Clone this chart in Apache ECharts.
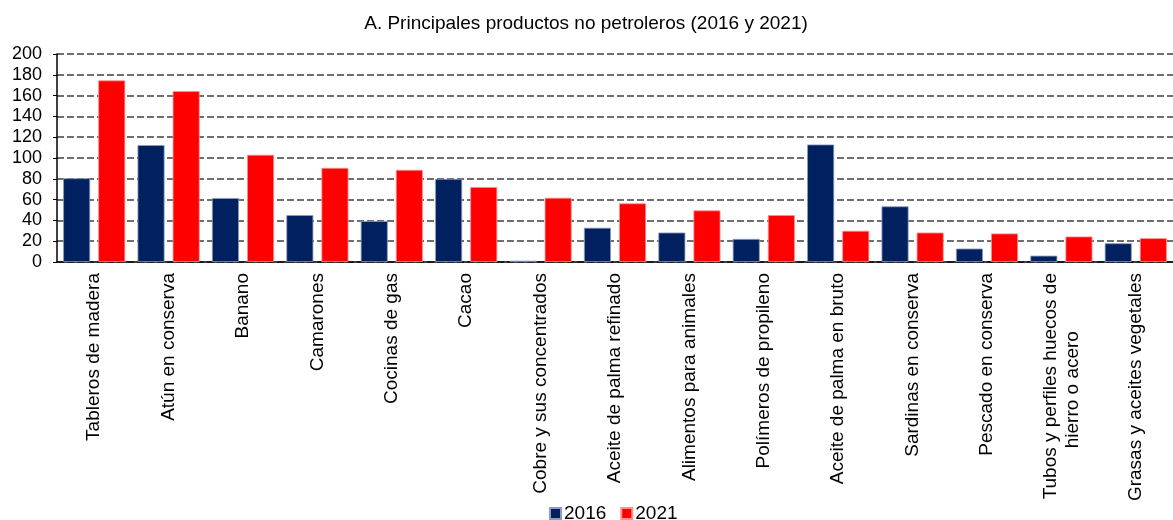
<!DOCTYPE html>
<html>
<head>
<meta charset="utf-8">
<script src="https://cdn.jsdelivr.net/npm/echarts@6/dist/echarts.min.js"></script>
<style>
  html, body { margin: 0; padding: 0; background: #fff; }
  #main { width: 1173px; height: 520px; }
</style>
</head>
<body>
<div id="main"></div>
<script>
// datos
var categorias = [
  'Tableros de madera', 'Atún en conserva', 'Banano', 'Camarones', 'Cocinas de gas',
  'Cacao', 'Cobre y sus concentrados', 'Aceite de palma refinado', 'Alimentos para animales',
  'Polímeros de propileno', 'Aceite de palma en bruto', 'Sardinas en conserva',
  'Pescado en conserva', 'Tubos y perfiles huecos de\nhierro o acero           ',
  'Grasas y aceites vegetales'
];
var valores2016 = [80.5, 112.4, 61.5, 45.1, 39.3, 79.9, 1.3, 32.9, 28.3, 22.2, 113.0, 53.5, 12.9, 6.1, 18.0];
var valores2021 = [174.6, 164.3, 103.1, 90.5, 88.6, 72.1, 61.8, 56.4, 49.6, 45.1, 30.0, 28.3, 27.4, 24.5, 22.9];
var ticksY = [0, 20, 40, 60, 80, 100, 120, 140, 160, 180, 200];

var fuente = 'Liberation Sans, Arial, sans-serif';
var chart = echarts.init(document.getElementById('main'), null, { renderer: 'canvas' });

var option = {
  animation: false,
  textStyle: { fontFamily: fuente },
  title: {
    text: 'A. Principales productos no petroleros (2016 y 2021)',
    left: 581,
    top: 9,
    textAlign: 'center',
    textStyle: { fontFamily: fuente, fontSize: 19, fontWeight: 'normal', color: '#000' }
  },
  legend: {
    data: ['2016', '2021'],
    left: 544,
    top: 499,
    itemWidth: 11,
    itemHeight: 11,
    itemGap: 14,
    icon: 'rect',
    textStyle: { fontFamily: fuente, fontSize: 19, color: '#000', padding: [0, 0, 0, -2] }
  },
  grid: {
    left: 57,
    top: 54,
    width: 1121,
    height: 208,
    containLabel: false
  },
  xAxis: {
    type: 'category',
    data: categorias,
    axisLine: { lineStyle: { color: '#000', width: 1.5 } },
    axisTick: { show: false },
    axisLabel: {
      interval: 0,
      rotate: 90,
      margin: 11,
      fontFamily: fuente,
      fontSize: 19,
      color: '#000',
      lineHeight: 22
    }
  },
  yAxis: {
    type: 'value',
    min: ticksY[0],
    max: ticksY[ticksY.length - 1],
    interval: 20,
    axisLine: { show: true, lineStyle: { color: '#000', width: 1.5 } },
    axisTick: { show: true, length: 4, lineStyle: { color: '#000' } },
    axisLabel: { margin: 15, fontFamily: fuente, fontSize: 18, color: '#000' },
    splitLine: { lineStyle: { color: '#404040', width: 1.5, type: [7, 3] } }
  },
  series: [
    {
      name: '2016',
      type: 'bar',
      data: valores2016,
      barWidth: 27,
      barGap: '30%',
      itemStyle: { color: '#002060', borderColor: '#8d9cc0', borderWidth: 0.8 }
    },
    {
      name: '2021',
      type: 'bar',
      data: valores2021,
      barWidth: 27,
      itemStyle: { color: '#ff0000', borderColor: '#ff9090', borderWidth: 0.8 }
    }
  ]
};

chart.setOption(option);
</script>
</body>
</html>
